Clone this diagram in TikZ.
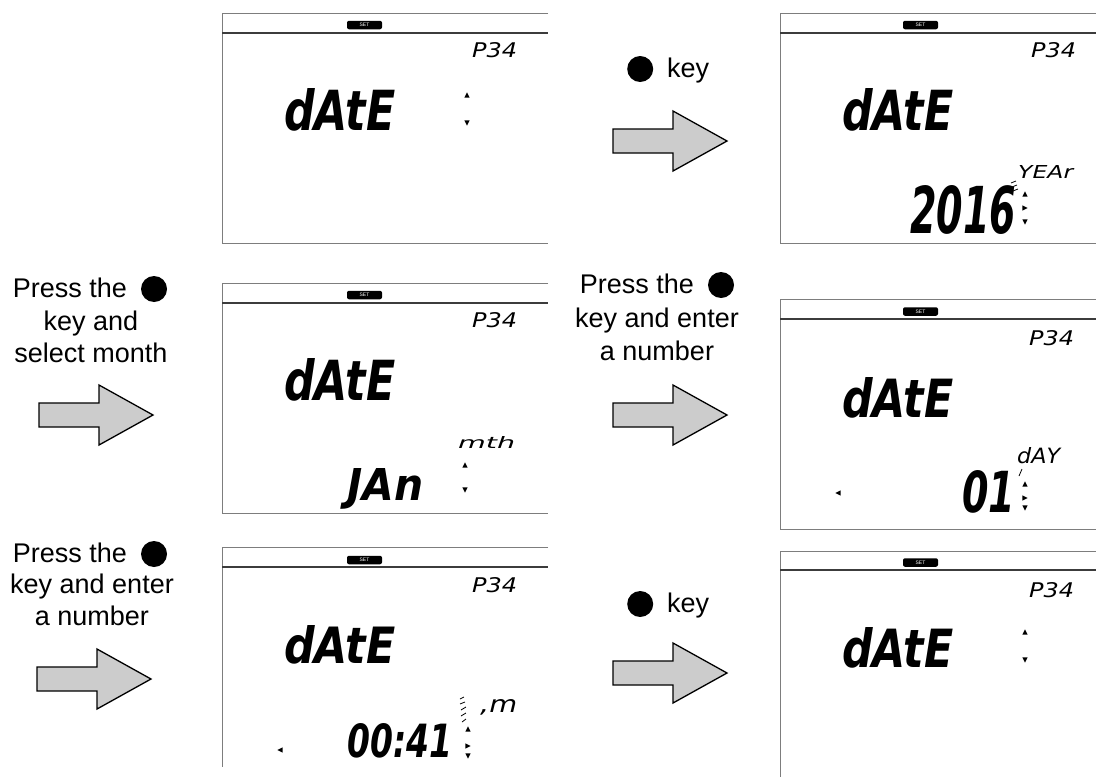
\documentclass[tikz,border=0pt]{standalone}
\usepackage{fontspec}
\usepackage{graphicx}
\setmainfont{Liberation Sans}
\newfontfamily\lcdfont{DejaVu Sans}
\definecolor{framec}{RGB}{125,125,125}
\definecolor{barc}{RGB}{60,60,60}
\definecolor{arrowfill}{RGB}{204,204,204}
\newcommand\kdot{\tikz[baseline=-8pt]\fill (0,0) circle (13pt);}
\newcommand\lcdup[2]{\fill (#1,#2) ++(-2.6,2.6) -- ++(5.2,0) -- ++(-2.6,-5.2) -- cycle;}
\newcommand\lcddown[2]{\fill (#1,#2) ++(-2.6,-2.6) -- ++(5.2,0) -- ++(-2.6,5.2) -- cycle;}
\newcommand\lcdright[2]{\fill (#1,#2) ++(-2.6,-2.6) -- ++(0,5.2) -- ++(5.2,-2.6) -- cycle;}
\newcommand\lcdleft[2]{\fill (#1,#2) ++(2.6,-2.6) -- ++(0,5.2) -- ++(-5.2,-2.6) -- cycle;}
\newcommand\blockarr[2]{\draw[blockarrow] (#1,#2) ++(0,-12) -- ++(60,0) -- ++(0,-18) -- ++(54,30) -- ++(-54,30) -- ++(0,-18) -- ++(-60,0) -- cycle;}
% #1 name, #2 x, #3 baseline y, #4 width, #5 height, #6 text
\newcommand\lcdtext[6]{\node[lcdtxt] (#1) at (#2,#3) {\resizebox{#4pt}{#5pt}{\lcdfont\bfseries\itshape #6}};}
\newcommand\lcdsmall[6]{\node[lcdtxt] (#1) at (#2,#3) {\resizebox{#4pt}{#5pt}{\lcdfont\itshape #6}};}
\begin{document}
\begin{tikzpicture}[x=1pt,y=-1pt,
  lbl/.style={font=\fontsize{27}{32}\selectfont, inner sep=0, anchor=base},
  frm/.style={draw=framec, line width=0.9pt},
  bar/.style={draw=barc, line width=2pt},
  setbadge/.style={fill=black, rounded corners=2pt, minimum width=35pt, minimum height=8.5pt, inner sep=0, text=white, font=\fontsize{5}{5}\selectfont},
  blockarrow/.style={fill=arrowfill, draw=black, line width=1.3pt, line join=miter},
  lcdtxt/.style={inner sep=0, anchor=base west}]
\useasboundingbox (0,0) rectangle (1096,777);
\fill[white] (0,0) rectangle (1096,777);

% ---------- panel frames ----------
% P1
\draw[frm] (548,13) -- (222,13) -- (222,243) -- (548,243);
\draw[bar] (222,33) -- (548,33);
% P2
\draw[frm] (1096,13) -- (780,13) -- (780,243) -- (1096,243);
\draw[bar] (780,33) -- (1096,33);
% P3
\draw[frm] (548,283) -- (222,283) -- (222,513) -- (548,513);
\draw[bar] (222,303) -- (548,303);
% P4
\draw[frm] (1096,299) -- (780,299) -- (780,529) -- (1096,529);
\draw[bar] (780,319) -- (1096,319);
% P5
\draw[frm] (548,547) -- (222,547) -- (222,767);
\draw[bar] (222,567) -- (548,567);
% P6
\draw[frm] (1096,551) -- (780,551) -- (780,777);
\draw[bar] (780,570) -- (1096,570);

% ---------- SET badges ----------
\node[setbadge] (set1) at (364.5,25) {SET};
\node[setbadge] (set2) at (920.5,25) {SET};
\node[setbadge] (set3) at (364.5,295) {SET};
\node[setbadge] (set4) at (920.5,311.5) {SET};
\node[setbadge] (set5) at (364.5,560) {SET};
\node[setbadge] (set6) at (920.5,562.5) {SET};

% ---------- P34 ----------
\lcdsmall{p1}{472}{57}{45}{15}{P34}
\lcdsmall{p2}{1031}{57}{45}{15}{P34}
\lcdsmall{p3}{472}{327}{45}{15}{P34}
\lcdsmall{p4}{1029}{345}{45}{15}{P34}
\lcdsmall{p5}{472}{592}{45}{15}{P34}
\lcdsmall{p6}{1029}{597}{45}{15}{P34}

% ---------- dAtE ----------
\lcdtext{d1}{284}{130}{111}{42}{dAtE}
\lcdtext{d2}{842}{130}{111}{42}{dAtE}
\lcdtext{d3}{284}{400}{111}{42}{dAtE}
\lcdtext{d4}{842}{417}{111}{40}{dAtE}
\lcdtext{d5}{284}{663}{111}{38}{dAtE}
\lcdtext{d6}{842}{667}{111}{40}{dAtE}

% ---------- panel 1 ----------
\lcdup{467}{95}
\lcddown{467}{123}

% ---------- panel 2 ----------
\lcdsmall{yr}{1018}{178}{55}{13}{YEAr}
\lcdtext{v2}{910}{233}{106}{48}{2016}
\draw[line width=0.8pt] (1011,183) -- (1016,181) (1012,187) -- (1017,185) (1013,191) -- (1018,189);
\lcdup{1025}{194}
\lcdright{1025}{208}
\lcddown{1025}{222}

% ---------- panel 3 ----------
\lcdsmall{mo}{458}{448}{57}{12}{mth}
\lcdtext{v3}{347}{500}{76}{32}{JAn}
\lcdup{465}{465}
\lcddown{465}{490}

% ---------- panel 4 ----------
\lcdsmall{dy}{1017}{463}{43}{16}{dAY}
\lcdtext{v4}{962}{512}{53}{42}{01}
\draw[line width=0.8pt] (1019,476) -- (1022,469);
\lcdleft{838}{493}
\lcdup{1025}{484}
\lcdright{1025}{498}
\lcddown{1025}{508}

% ---------- panel 5 ----------
\lcdsmall{mi}{480}{712}{37}{13}{,m}
\lcdtext{v5}{347}{757}{105}{34}{00:41}
\draw[line width=0.8pt] (460,699) -- (464,697) (460,704) -- (465,702) (461,710) -- (466,707) (461,716) -- (466,713) (462,722) -- (466,719);
\lcdleft{280}{750}
\lcdup{468}{729}
\lcdright{468}{746}
\lcddown{468}{756}

% ---------- panel 6 ----------
\lcdup{1025}{632}
\lcddown{1025}{660}

% ---------- block arrows ----------
\blockarr{613}{141}
\blockarr{39}{415}
\blockarr{613}{415}
\blockarr{37}{679}
\blockarr{613}{673}

% ---------- labels ----------
\node[lbl, anchor=base west] (k1) at (627,77) {\kdot\hspace{14pt}key};

\node[lbl] (a1) at (90,297) {Press the\hspace{14pt}\kdot};
\node[lbl] (a2) at (91,330) {key and};
\node[lbl] (a3) at (91,362) {select month};

\node[lbl] (b1) at (657,293) {Press the\hspace{14pt}\kdot};
\node[lbl] (b2) at (657,327) {key and enter};
\node[lbl] (b3) at (657,360) {a number};

\node[lbl] (c1) at (90,562) {Press the\hspace{14pt}\kdot};
\node[lbl] (c2) at (92,593) {key and enter};
\node[lbl] (c3) at (92,625) {a number};

\node[lbl, anchor=base west] (k2) at (627,612) {\kdot\hspace{14pt}key};
\end{tikzpicture}
\end{document}
